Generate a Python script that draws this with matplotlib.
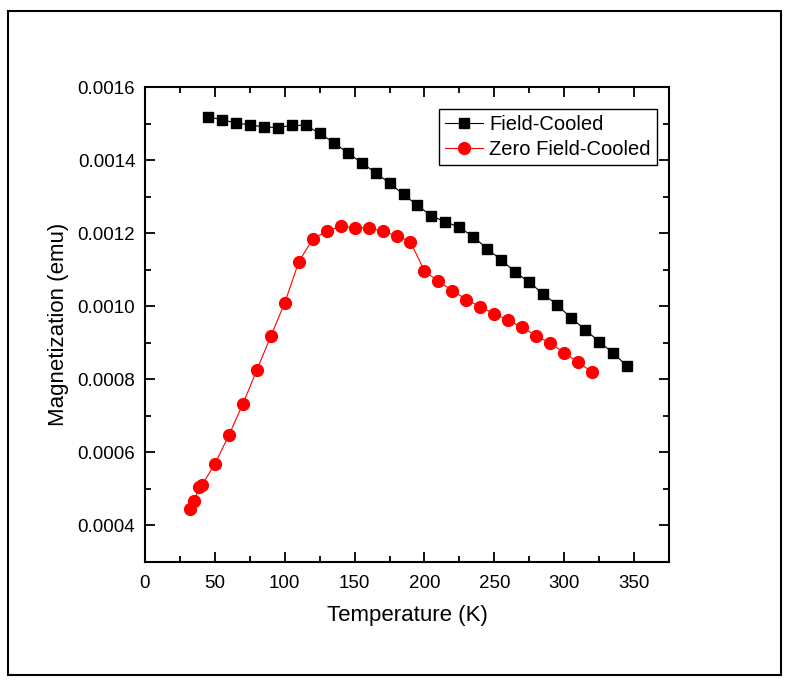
import matplotlib
matplotlib.use("Agg")
import matplotlib.pyplot as plt
from matplotlib.patches import Rectangle
from matplotlib.ticker import MultipleLocator, FormatStrFormatter

plt.rcParams['font.family'] = ['Liberation Sans', 'DejaVu Sans']

# Field-Cooled data
fc_temp = [45, 55, 65, 75, 85, 95, 105, 115, 125, 135, 145, 155, 165, 175, 185,
           195, 205, 215, 225, 235, 245, 255, 265, 275, 285, 295, 305, 315, 325,
           335, 345]
fc_mag = [0.001519, 0.001510, 0.001502, 0.001496, 0.001491, 0.001489, 0.001495,
          0.001495, 0.001473, 0.001448, 0.001420, 0.001393, 0.001365, 0.001337,
          0.001306, 0.001276, 0.001247, 0.001231, 0.001216, 0.001190, 0.001157,
          0.001126, 0.001094, 0.001065, 0.001034, 0.001003, 0.000968, 0.000936,
          0.000903, 0.000872, 0.000836]

# Zero Field-Cooled data
zfc_temp = [32, 35, 39, 41, 50, 60, 70, 80, 90, 100, 110, 120, 130, 140, 150,
            160, 170, 180, 190, 200, 210, 220, 230, 240, 250, 260, 270, 280, 290,
            300, 310, 320]
zfc_mag = [0.000444, 0.000468, 0.000505, 0.000512, 0.000568, 0.000647, 0.000732,
           0.000825, 0.000918, 0.001009, 0.001121, 0.001184, 0.001205, 0.001219,
           0.001215, 0.001215, 0.001205, 0.001193, 0.001176, 0.001096, 0.001068,
           0.001043, 0.001018, 0.000998, 0.000980, 0.000961, 0.000942, 0.000919,
           0.000899, 0.000873, 0.000846, 0.000820]

W, H = 792, 685
fig = plt.figure(figsize=(W / 100, H / 100), dpi=100)
ax = fig.add_axes([145 / W, 1 - 562 / H, 524 / W, 475 / H])

ax.plot(fc_temp, fc_mag, color='black', lw=0.8, marker='s', ms=7.2,
        label='Field-Cooled')
ax.plot(zfc_temp, zfc_mag, color='red', lw=0.8, marker='o', ms=8.5,
        label='Zero Field-Cooled')

ax.set_xlim(0, 375)
ax.set_ylim(0.0003, 0.0016)
ax.xaxis.set_major_locator(MultipleLocator(50))
ax.xaxis.set_minor_locator(MultipleLocator(25))
ax.yaxis.set_major_locator(MultipleLocator(0.0002))
ax.yaxis.set_minor_locator(MultipleLocator(0.0001))
ax.yaxis.set_major_formatter(FormatStrFormatter('%.4f'))

for s in ax.spines.values():
    s.set_linewidth(1.5)
ax.tick_params(which='both', direction='in', top=True, right=True, width=1.3)
ax.tick_params(which='major', length=7, labelsize=13.5)
ax.tick_params(which='minor', length=4)
ax.tick_params(axis='x', pad=9)
ax.tick_params(axis='y', pad=7)

ax.set_xlabel('Temperature (K)', fontsize=16, labelpad=10)
ax.set_ylabel('Magnetization (emu)', fontsize=16, labelpad=6)

leg = ax.legend(loc='upper right', bbox_to_anchor=(0.977, 0.954),
                borderaxespad=0, fontsize=14.5, handlelength=1.9,
                fancybox=False, framealpha=1, edgecolor='black',
                borderpad=0.3, labelspacing=0.3, handletextpad=0.3)
leg.get_frame().set_linewidth(1.0)

# outer frame around the whole picture
fig.add_artist(Rectangle((8 / W, 1 - 675 / H), 773 / W, 664 / H,
                         transform=fig.transFigure, fill=False,
                         lw=1.5, edgecolor='black'))

fig.savefig('out.png', dpi=100)
